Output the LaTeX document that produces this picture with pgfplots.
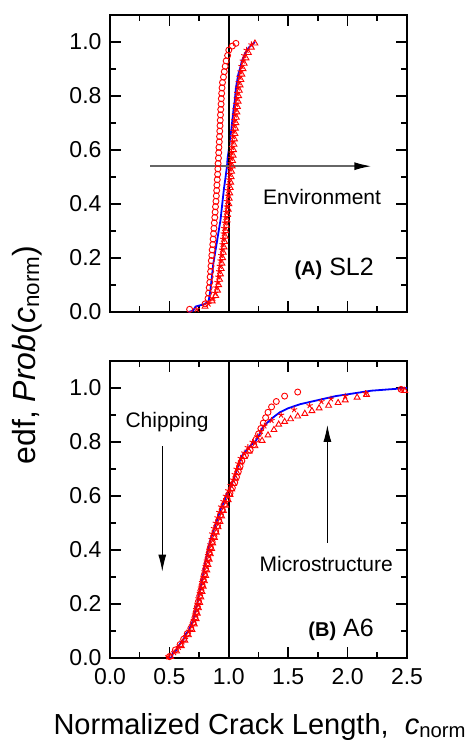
\documentclass[border=0pt]{standalone}
\usepackage{fontspec}
\setmainfont{Liberation Sans}
\usepackage{pgfplots}
\pgfplotsset{compat=1.18}
\usetikzlibrary{arrows.meta}

\pgfplotsset{
  mystyle/.style={
    width=297pt, height=297pt, scale only axis,
    xmin=0, xmax=2.5, ymin=0, ymax=1.1,
    xtick={0,0.5,1.0,1.5,2.0,2.5}, ytick={0,0.2,0.4,0.6,0.8,1.0},
    minor x tick num=1, minor y tick num=1,
    tick align=inside,
    major tick length=11pt, minor tick length=6pt,
    every tick/.style={line width=1.6pt, black},
    axis line style={line width=1.8pt},
    tick label style={font=\fontsize{23}{26}\selectfont},
    yticklabel style={xshift=-5pt},
    xticklabel style={yshift=-7pt},
    /pgf/number format/assume math mode=true,
    /pgf/number format/fixed,
    /pgf/number format/fixed zerofill,
    /pgf/number format/precision=1,
    clip=false,
  },
  circ/.style={only marks, mark=o, mark size=3pt, red, mark options={line width=0.9pt}},
  tri/.style={only marks, mark=triangle, mark size=3.4pt, red, mark options={line width=0.9pt}},
  st/.style={only marks, mark=star, mark size=3.2pt, red, mark options={line width=0.9pt}},
  blu/.style={blue, line width=1.8pt, mark=none},
}

\pgfplotstableread{
x y
0.67 0.01
0.80 0.03
0.825 0.05
0.83 0.07
0.835 0.09
0.84 0.11
0.843 0.13
0.847 0.15
0.85 0.17
0.853 0.19
0.857 0.21
0.86 0.23
0.865 0.25
0.868 0.27
0.872 0.29
0.875 0.31
0.878 0.33
0.882 0.35
0.885 0.37
0.888 0.39
0.892 0.41
0.895 0.43
0.898 0.45
0.90 0.47
0.903 0.49
0.906 0.51
0.908 0.53
0.91 0.55
0.913 0.57
0.915 0.59
0.917 0.61
0.92 0.63
0.922 0.65
0.924 0.67
0.926 0.69
0.928 0.71
0.93 0.73
0.932 0.75
0.935 0.77
0.937 0.79
0.94 0.81
0.943 0.83
0.947 0.85
0.955 0.87
0.962 0.89
0.97 0.91
0.978 0.93
0.99 0.95
1.0 0.97
1.03 0.985
1.06 0.995
}\topcirc

\pgfplotstableread{
x y
0.80 0.02
0.86 0.04
0.89 0.06
0.905 0.08
0.915 0.10
0.923 0.12
0.93 0.14
0.936 0.16
0.942 0.18
0.948 0.20
0.954 0.22
0.96 0.24
0.965 0.26
0.97 0.28
0.975 0.30
0.98 0.32
0.985 0.34
0.99 0.36
0.995 0.38
1.0 0.40
1.004 0.42
1.008 0.44
1.012 0.46
1.016 0.48
1.02 0.50
1.024 0.52
1.028 0.54
1.032 0.56
1.036 0.58
1.04 0.60
1.044 0.62
1.048 0.64
1.052 0.66
1.056 0.68
1.06 0.70
1.064 0.72
1.068 0.74
1.073 0.76
1.078 0.78
1.083 0.80
1.089 0.82
1.095 0.84
1.102 0.86
1.11 0.88
1.12 0.90
1.13 0.92
1.145 0.94
1.165 0.96
1.19 0.98
1.22 0.995
}\toptri

\pgfplotstableread{
x y
0.73 0.01
0.83 0.03
0.87 0.05
0.885 0.07
0.895 0.09
0.905 0.11
0.912 0.13
0.918 0.15
0.924 0.17
0.93 0.19
0.936 0.21
0.942 0.23
0.947 0.25
0.952 0.27
0.957 0.29
0.962 0.31
0.967 0.33
0.972 0.35
0.977 0.37
0.982 0.39
0.987 0.41
0.991 0.43
0.995 0.45
0.999 0.47
1.003 0.49
1.007 0.51
1.011 0.53
1.015 0.55
1.019 0.57
1.023 0.59
1.027 0.61
1.031 0.63
1.035 0.65
1.039 0.67
1.043 0.69
1.047 0.71
1.051 0.73
1.056 0.75
1.061 0.77
1.066 0.79
1.071 0.81
1.077 0.83
1.083 0.85
1.09 0.87
1.098 0.89
1.107 0.91
1.118 0.93
1.13 0.95
1.15 0.97
1.19 0.99
}\topstar

\pgfplotstableread{
x y
0.66 0.0
0.70 0.005
0.72 0.02
0.76 0.025
0.80 0.03
0.83 0.04
0.845 0.08
0.855 0.12
0.87 0.18
0.885 0.22
0.90 0.26
0.915 0.30
0.93 0.34
0.94 0.38
0.95 0.42
0.96 0.46
0.97 0.49
0.985 0.54
0.99 0.57
1.0 0.60
1.01 0.64
1.02 0.67
1.03 0.71
1.04 0.75
1.05 0.78
1.06 0.83
1.08 0.88
1.10 0.91
1.11 0.93
1.14 0.96
1.17 0.98
1.22 1.0
}\topblue

\pgfplotstableread{
x y
0.50 0.005
0.55 0.03
0.59 0.05
0.62 0.07
0.65 0.09
0.68 0.11
0.70 0.13
0.715 0.15
0.725 0.17
0.735 0.19
0.745 0.21
0.755 0.23
0.765 0.25
0.775 0.27
0.785 0.29
0.795 0.31
0.805 0.33
0.815 0.35
0.825 0.37
0.835 0.39
0.845 0.41
0.86 0.43
0.875 0.45
0.89 0.47
0.905 0.49
0.915 0.51
0.93 0.53
0.945 0.55
0.965 0.57
0.985 0.59
1.01 0.61
1.03 0.63
1.05 0.65
1.065 0.67
1.08 0.69
1.095 0.71
1.11 0.73
1.14 0.75
1.18 0.77
1.21 0.79
1.23 0.81
1.25 0.83
1.27 0.85
1.29 0.87
1.31 0.89
1.33 0.91
1.36 0.93
1.40 0.95
1.47 0.97
1.58 0.985
2.45 0.995
}\botcirc

\pgfplotstableread{
x y
0.51 0.005
0.56 0.025
0.60 0.045
0.63 0.065
0.66 0.085
0.69 0.105
0.71 0.125
0.725 0.145
0.735 0.165
0.745 0.185
0.755 0.205
0.765 0.225
0.775 0.245
0.785 0.265
0.795 0.285
0.805 0.305
0.815 0.325
0.825 0.345
0.835 0.365
0.845 0.385
0.855 0.405
0.865 0.425
0.88 0.445
0.895 0.465
0.91 0.485
0.925 0.505
0.94 0.525
0.955 0.545
0.975 0.565
0.995 0.585
1.01 0.605
1.025 0.625
1.04 0.645
1.055 0.665
1.07 0.685
1.085 0.705
1.10 0.725
1.13 0.745
1.17 0.765
1.22 0.785
1.28 0.805
1.33 0.825
1.38 0.845
1.42 0.865
1.47 0.875
1.52 0.885
1.58 0.895
1.64 0.905
1.70 0.915
1.76 0.925
1.84 0.935
1.92 0.945
1.98 0.955
2.08 0.965
2.16 0.975
2.48 0.99
}\bottri

\pgfplotstableread{
x y
0.49 0.005
0.54 0.02
0.58 0.04
0.61 0.06
0.64 0.08
0.665 0.10
0.69 0.12
0.705 0.14
0.715 0.16
0.725 0.18
0.735 0.20
0.745 0.22
0.755 0.24
0.765 0.26
0.775 0.28
0.785 0.30
0.795 0.32
0.805 0.34
0.815 0.36
0.825 0.38
0.835 0.40
0.845 0.42
0.855 0.44
0.86 0.46
0.875 0.48
0.89 0.50
0.905 0.52
0.92 0.54
0.935 0.56
0.955 0.58
0.975 0.60
0.995 0.62
1.015 0.64
1.035 0.66
1.05 0.68
1.065 0.70
1.08 0.72
1.10 0.74
1.13 0.76
1.16 0.78
1.20 0.80
1.24 0.82
1.27 0.84
1.30 0.86
1.36 0.88
1.44 0.90
1.55 0.92
1.68 0.935
1.78 0.95
1.86 0.96
1.98 0.97
2.15 0.98
2.45 0.995
}\botstar

\pgfplotstableread{
x y
0.48 0.0
0.52 0.0
0.53 0.02
0.56 0.03
0.58 0.045
0.60 0.06
0.62 0.07
0.64 0.09
0.66 0.10
0.68 0.12
0.70 0.14
0.71 0.16
0.72 0.18
0.735 0.20
0.745 0.23
0.755 0.25
0.765 0.27
0.775 0.29
0.785 0.31
0.79 0.33
0.80 0.35
0.81 0.37
0.82 0.39
0.83 0.41
0.84 0.43
0.855 0.45
0.87 0.47
0.885 0.49
0.90 0.51
0.915 0.53
0.93 0.55
0.95 0.57
0.97 0.59
0.985 0.61
1.0 0.62
1.02 0.64
1.04 0.66
1.055 0.68
1.07 0.70
1.085 0.72
1.10 0.74
1.12 0.755
1.15 0.77
1.19 0.79
1.22 0.80
1.25 0.82
1.28 0.85
1.32 0.87
1.37 0.89
1.43 0.91
1.50 0.925
1.60 0.94
1.70 0.95
1.80 0.96
1.90 0.97
2.05 0.98
2.20 0.99
2.35 0.995
2.50 1.0
}\botblue

\begin{document}
\begin{tikzpicture}
\path[use as bounding box] (-110pt,-86pt) rectangle (358pt,658pt);

% top panel
\begin{axis}[mystyle, at={(0pt,346pt)}, anchor=south west, xticklabels={}]
  \addplot[circ] table {\topcirc};
  \addplot[tri] table {\toptri};
  \addplot[st] table {\topstar};
  \addplot[blu] table {\topblue};
  \draw[line width=1.8pt] (axis cs:1,0) -- (axis cs:1,1.1);
  \draw[black!60, line width=1.5pt, -{Latex[length=17pt,width=8pt,color=black]}]
     (axis cs:0.337,0.54) -- (axis cs:2.2,0.54);
  \node[font=\fontsize{21}{24}\selectfont] at (axis cs:1.785,0.426) {Environment};
  \node[anchor=east, font=\fontsize{25}{28}\selectfont] at (axis cs:2.25,0.16)
     {{\fontsize{20}{22}\selectfont\bfseries (A)} SL2};
\end{axis}

% bottom panel
\begin{axis}[mystyle, at={(0pt,0pt)}, anchor=south west]
  \addplot[circ] table {\botcirc};
  \addplot[tri] table {\bottri};
  \addplot[st] table {\botstar};
  \addplot[blu] table {\botblue};
  \draw[line width=1.8pt] (axis cs:1,0) -- (axis cs:1,1.1);
  \draw[black, line width=1pt, -{Latex[length=17pt,width=8pt]}]
     (axis cs:0.44,0.785) -- (axis cs:0.44,0.32);
  \draw[black, line width=1pt, -{Latex[length=17pt,width=8pt]}]
     (axis cs:1.83,0.426) -- (axis cs:1.83,0.863);
  \node[font=\fontsize{21}{24}\selectfont] at (axis cs:0.48,0.874) {Chipping};
  \node[font=\fontsize{21}{24}\selectfont] at (axis cs:1.82,0.35) {Microstructure};
  \node[anchor=east, font=\fontsize{25}{28}\selectfont] at (axis cs:2.25,0.104)
     {{\fontsize{20}{22}\selectfont\bfseries (B)} A6};
\end{axis}

\node[rotate=90, font=\fontsize{32}{36}\selectfont] at (-83pt,303pt)
   {edf,\ \textit{Prob}(\textit{c}\textsubscript{norm})};
\node[anchor=base west, font=\fontsize{29}{34}\selectfont] at (-60pt,-76pt)
   {Normalized Crack Length,\ \ \textit{c}\textsubscript{norm}};
\end{tikzpicture}
\end{document}
